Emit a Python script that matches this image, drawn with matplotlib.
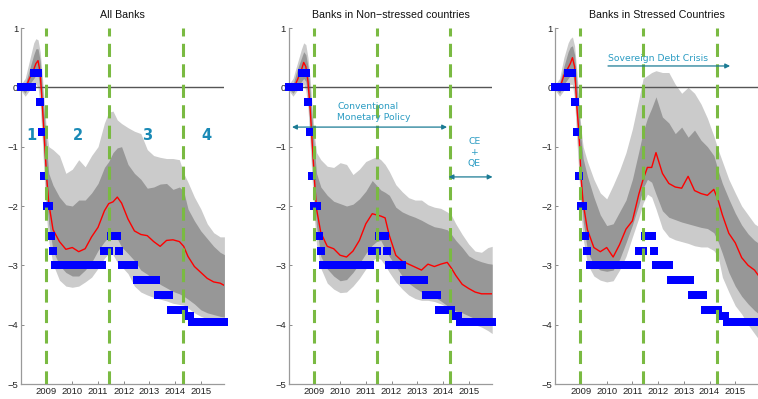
import matplotlib.pyplot as plt
import numpy as np

# sample months (counted from Jan 2008) at which the bands and medians are given
months = [0, 2, 4, 6, 7, 8, 9, 10, 11, 12, 13, 15, 18, 21, 24, 27, 30, 33, 36, 39,
          41, 43, 45, 47, 50, 53, 56, 59, 62, 65, 68, 71, 74, 76, 78, 81, 84, 87, 90, 93, 95]

# All banks
all_red = [0, -0.03, 0.15, 0.3, 0.4, 0.45, 0.25, -0.3, -0.9, -1.5, -1.95, -2.4, -2.6, -2.73,
           -2.7, -2.77, -2.72, -2.52, -2.36, -2.08, -1.96, -1.93, -1.85, -1.95, -2.22, -2.42,
           -2.48, -2.5, -2.6, -2.68, -2.58, -2.57, -2.6, -2.68, -2.85, -3.02, -3.12, -3.22,
           -3.28, -3.3, -3.34]
all_dark_hi = [0.02, 0.05, 0.3, 0.55, 0.65, 0.65, 0.45, 0.0, -0.5, -1.0, -1.45, -1.65, -1.85,
               -1.98, -2.0, -1.9, -1.9, -1.78, -1.62, -1.35, -1.25, -1.1, -1.02, -1.0, -1.3,
               -1.45, -1.55, -1.7, -1.68, -1.63, -1.62, -1.72, -1.68, -1.75, -2.05, -2.25,
               -2.42, -2.55, -2.68, -2.78, -2.82]
all_light_hi = [0.05, 0.15, 0.45, 0.75, 0.82, 0.8, 0.6, 0.2, -0.3, -0.75, -1.0, -1.05, -1.15,
                -1.45, -1.38, -1.22, -1.34, -1.15, -1.0, -0.6, -0.42, -0.4, -0.55, -0.61,
                -0.68, -0.74, -0.78, -1.05, -1.15, -1.18, -1.2, -1.2, -1.22, -1.45, -1.6,
                -1.85, -2.05, -2.3, -2.45, -2.52, -2.52]
all_dark_lo = [-0.02, -0.1, 0.05, 0.15, 0.2, 0.2, -0.05, -0.6, -1.3, -1.9, -2.3, -2.75, -3.0,
               -3.12, -3.18, -3.18, -3.08, -2.95, -2.75, -2.6, -2.52, -2.48, -2.55, -2.69,
               -2.8, -2.92, -3.08, -3.15, -3.24, -3.32, -3.38, -3.44, -3.48, -3.52, -3.57,
               -3.65, -3.75, -3.8, -3.83, -3.86, -3.87]
all_light_lo = [-0.05, -0.15, -0.05, 0.0, 0.05, 0.0, -0.3, -0.9, -1.6, -2.2, -2.6, -2.98, -3.25,
                -3.35, -3.37, -3.35, -3.28, -3.2, -3.05, -2.88, -2.8, -2.82, -2.95, -3.02,
                -3.14, -3.35, -3.45, -3.5, -3.54, -3.57, -3.6, -3.64, -3.66, -3.67, -3.72,
                -3.8, -3.86, -3.9, -3.93, -3.96, -3.97]

# Banks in non-stressed countries
ns_red = [0, -0.04, 0.12, 0.3, 0.42, 0.35, 0.1, -0.35, -0.95, -1.55, -2.05, -2.45, -2.68,
          -2.72, -2.83, -2.86, -2.76, -2.58, -2.3, -2.13, -2.15, -2.17, -2.2, -2.5, -2.83,
          -2.93, -2.98, -3.03, -3.08, -2.98, -3.02, -2.98, -2.95, -3.05, -3.17, -3.32, -3.39,
          -3.45, -3.48, -3.48, -3.48]
ns_dark_hi = [0.02, 0.05, 0.3, 0.5, 0.6, 0.55, 0.35, -0.05, -0.55, -1.05, -1.45, -1.68, -1.82,
              -1.92, -1.96, -2.0, -1.97, -1.88, -1.75, -1.57, -1.65, -1.73, -1.77, -1.82,
              -2.02, -2.1, -2.15, -2.19, -2.24, -2.3, -2.35, -2.37, -2.4, -2.48, -2.58, -2.7,
              -2.84, -2.9, -2.94, -2.97, -2.98]
ns_light_hi = [0.05, 0.15, 0.4, 0.65, 0.75, 0.72, 0.5, 0.15, -0.35, -0.8, -1.1, -1.22, -1.33,
               -1.35, -1.27, -1.3, -1.47, -1.38, -1.25, -1.2, -1.17, -1.22, -1.3, -1.42, -1.64,
               -1.76, -1.86, -1.9, -1.9, -1.98, -2.02, -2.04, -2.1, -2.16, -2.3, -2.48, -2.64,
               -2.76, -2.78, -2.7, -2.68]
ns_dark_lo = [-0.02, -0.1, 0.0, 0.1, 0.15, 0.1, -0.15, -0.65, -1.3, -1.9, -2.35, -2.85, -3.06,
              -3.18, -3.26, -3.24, -3.12, -2.97, -2.8, -2.66, -2.6, -2.58, -2.72, -2.85, -3.02,
              -3.18, -3.3, -3.38, -3.45, -3.5, -3.53, -3.6, -3.68, -3.72, -3.77, -3.8, -3.85,
              -3.9, -3.93, -3.96, -3.97]
ns_light_lo = [-0.05, -0.15, -0.05, 0.0, 0.05, -0.05, -0.35, -0.95, -1.6, -2.2, -2.65, -3.05,
               -3.3, -3.4, -3.46, -3.45, -3.35, -3.22, -3.06, -2.92, -2.87, -2.9, -3.0, -3.12,
               -3.28, -3.4, -3.5, -3.56, -3.59, -3.59, -3.61, -3.65, -3.7, -3.77, -3.85, -3.93,
               -3.97, -4.0, -4.04, -4.1, -4.15]

# Banks in stressed countries
st_red = [0, -0.03, 0.2, 0.33, 0.4, 0.5, 0.35, -0.3, -0.75, -1.5, -1.95, -2.4, -2.7, -2.77,
          -2.7, -2.86, -2.65, -2.39, -2.25, -1.8, -1.55, -1.35, -1.35, -1.1, -1.45, -1.62,
          -1.68, -1.7, -1.5, -1.74, -1.79, -1.82, -1.72, -1.9, -2.15, -2.46, -2.62, -2.87,
          -3.0, -3.08, -3.18]
st_dark_hi = [0.02, 0.08, 0.35, 0.6, 0.68, 0.7, 0.55, 0.1, -0.4, -0.85, -1.2, -1.5, -1.85,
              -2.15, -2.33, -2.3, -2.1, -1.9, -1.55, -1.08, -0.75, -0.52, -0.35, -0.16, -0.5,
              -0.6, -0.78, -0.67, -0.84, -0.72, -0.89, -1.0, -1.15, -1.4, -1.62, -1.88, -2.12,
              -2.32, -2.47, -2.58, -2.63]
st_light_hi = [0.05, 0.15, 0.5, 0.75, 0.82, 0.85, 0.7, 0.3, -0.2, -0.7, -1.0, -1.25, -1.55,
               -1.78, -1.88, -1.65, -1.4, -1.1, -0.7, -0.2, 0.15, 0.2, 0.25, 0.28, 0.25, 0.25,
               0.05, -0.1, 0.0, -0.1, -0.28, -0.52, -0.82, -1.05, -1.25, -1.55, -1.78, -2.0,
               -2.15, -2.3, -2.35]
st_dark_lo = [-0.02, -0.1, 0.05, 0.15, 0.2, 0.25, 0.05, -0.55, -1.1, -1.8, -2.25, -2.75, -3.0,
              -3.08, -3.1, -3.08, -2.9, -2.62, -2.32, -1.98, -1.7, -1.55, -1.6, -1.8, -2.08,
              -2.19, -2.23, -2.27, -2.3, -2.33, -2.36, -2.38, -2.45, -2.6, -2.8, -3.12, -3.35,
              -3.52, -3.65, -3.76, -3.82]
st_light_lo = [-0.05, -0.15, -0.05, 0.0, 0.05, 0.05, -0.2, -0.85, -1.45, -2.1, -2.55, -2.98,
               -3.18, -3.25, -3.28, -3.26, -3.08, -2.85, -2.52, -2.2, -1.95, -1.8, -1.85, -2.05,
               -2.38, -2.52, -2.57, -2.6, -2.63, -2.67, -2.69, -2.69, -2.75, -2.85, -3.2, -3.45,
               -3.68, -3.82, -4.0, -4.15, -4.25]

# policy rate change vs. Jan 2008: level and number of months it holds (Jan 2008 - Dec 2015)
rate_levels = [0, 0.25, -0.25, -0.75, -1.5, -2.0, -2.5, -2.75, -3.0, -2.75, -2.5, -2.75,
               -3.0, -3.25, -3.5, -3.75, -3.85, -3.95]
rate_months = [6, 3, 1, 1, 1, 2, 1, 1, 23, 3, 4, 1, 7, 10, 6, 7, 3, 16]

# phase boundaries
phase_dates = [2008.975, 2011.43, 2014.29]

titles = ["All Banks", "Banks in Non\u2212stressed countries", "Banks in Stressed Countries"]
years = [2009, 2010, 2011, 2012, 2013, 2014, 2015]

x = 2008 + np.array(months) / 12.0
rate_y = np.repeat(rate_levels, rate_months)
rate_x = 2008 + np.arange(len(rate_y)) / 12.0

panels = [
    (all_light_lo, all_light_hi, all_dark_lo, all_dark_hi, all_red),
    (ns_light_lo, ns_light_hi, ns_dark_lo, ns_dark_hi, ns_red),
    (st_light_lo, st_light_hi, st_dark_lo, st_dark_hi, st_red),
]

plt.rcParams["font.family"] = ["Liberation Sans", "DejaVu Sans"]

fig = plt.figure(figsize=(7.58, 3.99), dpi=100)
lefts = [20.9 / 758, 288.7 / 758, 555.3 / 758]
axes = [fig.add_axes([l, 15 / 399, 203.5 / 758, 356 / 399]) for l in lefts]

teal_text = "#2b9cc3"
teal_arrow = "#1b7b94"

for ax, (llo, lhi, dlo, dhi, med), title in zip(axes, panels, titles):
    ax.fill_between(x, llo, lhi, color="#cbcbcb", linewidth=0)
    ax.fill_between(x, dlo, dhi, color="#979797", linewidth=0)
    ax.axhline(0, color="#555555", linewidth=1.0, zorder=2)
    ax.plot(x, med, color="#ff0000", linewidth=1.0, zorder=3)
    ax.plot(rate_x, rate_y, linestyle="none", marker="s", markersize=5.2,
            markeredgewidth=0, color="#0000ff", zorder=4, clip_on=False)
    for d in phase_dates:
        ax.axvline(d, color="#7aba42", linewidth=2.2, dashes=(4.3, 2.4), zorder=5)

    ax.set_xlim(2008, 2008 + 95 / 12.0)
    ax.set_ylim(-5, 1)
    ax.set_xticks(years)
    ax.set_xticklabels([str(y) for y in years])
    ax.set_yticks([-5, -4, -3, -2, -1, 0, 1])
    ax.set_yticklabels(["\u22125", "\u22124", "\u22123", "\u22122", "\u22121", "0", "1"])
    ax.tick_params(direction="in", length=2.5, width=0.6, color="#777777",
                   labelsize=6.8, labelcolor="#222222", pad=2)
    for side in ("top", "right"):
        ax.spines[side].set_visible(False)
    for side in ("left", "bottom"):
        ax.spines[side].set_color("#9a9a9a")
        ax.spines[side].set_linewidth(0.9)
    ax.set_title(title, fontsize=7.7, pad=7, color="#111111")

# phase numbers
ax = axes[0]
for label, xpos in zip(["1", "2", "3", "4"], [2008.42, 2010.23, 2012.9, 2015.23]):
    ax.text(xpos, -0.82, label, color="#1a8ab6", fontsize=10.5, fontweight="bold",
            family="DejaVu Sans", ha="center", va="center", zorder=6)

# policy regimes
ax = axes[1]
ax.text(2009.88, -0.42, "Conventional\nMonetary Policy", color=teal_text, fontsize=6.7,
        family="DejaVu Sans", ha="left", va="center", linespacing=1.35, zorder=6)
ax.annotate("", xy=(2014.16, -0.67), xytext=(2008.13, -0.67),
            arrowprops=dict(arrowstyle="<|-|>", color=teal_arrow, lw=0.9,
                            mutation_scale=7, shrinkA=0, shrinkB=0), zorder=6)
ax.text(2015.22, -1.1, "CE\n+\nQE", color=teal_text, fontsize=6.7, family="DejaVu Sans",
        ha="center", va="center", multialignment="center", linespacing=1.3, zorder=6)
ax.annotate("", xy=(2015.93, -1.51), xytext=(2014.22, -1.51),
            arrowprops=dict(arrowstyle="<|-|>", color=teal_arrow, lw=0.9,
                            mutation_scale=7, shrinkA=0, shrinkB=0),
            annotation_clip=False, zorder=6)

ax = axes[2]
ax.text(2010.05, 0.48, "Sovereign Debt Crisis", color=teal_text, fontsize=6.7,
        family="DejaVu Sans", ha="left", va="center", zorder=6)
ax.annotate("", xy=(2014.8, 0.36), xytext=(2010.05, 0.36),
            arrowprops=dict(arrowstyle="-|>", color=teal_arrow, lw=0.9,
                            mutation_scale=7, shrinkA=0, shrinkB=0), zorder=6)

fig.savefig("out.png", dpi=100)
